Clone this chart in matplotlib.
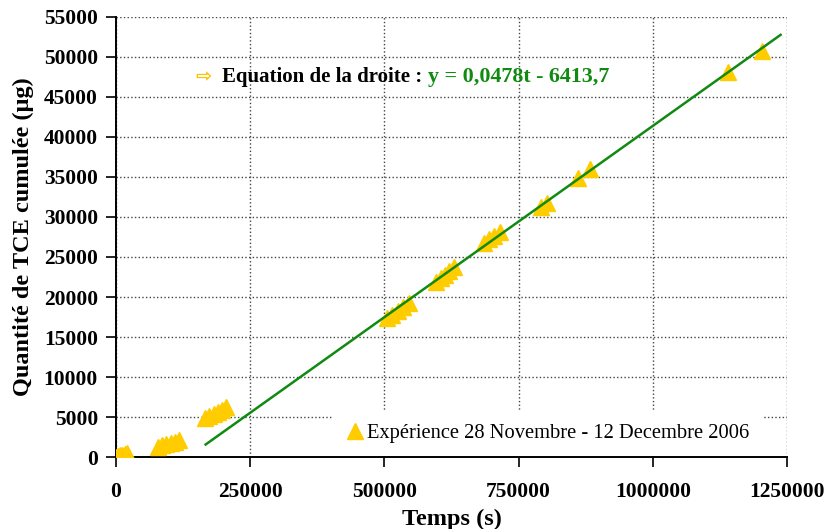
import numpy as np
import matplotlib
matplotlib.use("Agg")
from matplotlib import pyplot as plt

# measured points (temps in s, quantité cumulée in µg)
temps = [0, 4000, 8000, 12000, 16000, 20000,
         78000, 86000, 94000, 102000, 110000, 117000,
         166000, 174000, 182000, 190000, 198000, 204000,
         505000, 515000, 525000, 535000, 545000,
         597000, 605000, 612000, 620000, 630000,
         685000, 695000, 705000, 715000,
         792000, 802000, 861000, 883000,
         1140000, 1204000]
tce = [0, 100, 200, 300, 400, 500,
       1300, 1450, 1600, 1750, 1900, 2100,
       4900, 5100, 5400, 5600, 5900, 6200,
       17400, 17800, 18200, 18800, 19300,
       21900, 22400, 22800, 23200, 23800,
       26800, 27300, 27600, 28100,
       31300, 31700, 34900, 36000,
       48100, 50750]

# regression line given on the chart
pente = 0.0478
ordonnee = -6413.7
t_droite = [167000, 1238000]

x_ticks = [0, 250000, 500000, 750000, 1000000, 1250000]
y_ticks = list(range(0, 55001, 5000))

legend_label = "Expérience 28 Novembre - 12 Decembre 2006"
eq_black = "Equation de la droite : "
eq_green = "y = 0,0478t - 6413,7"

plt.rcParams['font.family'] = ['Liberation Serif', 'DejaVu Sans']

fig = plt.figure(figsize=(8.25, 5.29), dpi=100)
ax = fig.add_axes([0.1406, 0.136, 0.8134, 0.832])

ax.plot(temps, tce, linestyle='none', marker='^', ms=12, color='#FFCC00',
        markeredgecolor='#FFCC00', label=legend_label, zorder=3)
t_line = np.array(t_droite)
ax.plot(t_line, pente * t_line + ordonnee, color='#108A10', lw=1.8, zorder=4)

ax.set_xlim(0, 1250000)
ax.set_ylim(0, 55000)
ax.set_xticks(x_ticks)
ax.set_xticklabels([str(v) for v in x_ticks])
ax.set_yticks(y_ticks)
ax.set_yticklabels([str(v) for v in y_ticks])
ax.grid(True, linestyle=':', color='#444444', lw=1)
ax.set_axisbelow(True)

for s in ['top', 'right']:
    ax.spines[s].set_visible(False)
for s in ['left', 'bottom']:
    ax.spines[s].set_linewidth(1.4)

ax.tick_params(axis='x', direction='out', length=7, width=1.2, pad=11, labelsize=15.5)
ax.tick_params(axis='y', direction='out', length=7, width=1.2, pad=6, labelsize=15.5)
for lab in ax.get_xticklabels() + ax.get_yticklabels():
    lab.set_fontweight('bold')

ax.set_xlabel("Temps (s)", fontsize=17.5, fontweight='bold', labelpad=5)
ax.set_ylabel("Quantité de TCE cumulée (µg)", fontsize=17.5, fontweight='bold', labelpad=7)

# white box without border, hides the grid behind it
leg = ax.legend(loc='center left', bbox_to_anchor=(0.322, 0.0545), borderaxespad=0,
                fontsize=14.8, frameon=True, fancybox=False, handletextpad=0.1,
                borderpad=0.6, handlelength=1.0)
leg.get_frame().set_edgecolor('none')
leg.get_frame().set_facecolor('white')
leg.get_frame().set_alpha(1)

ax.text(0.13, 0.864, "⇨", transform=ax.transAxes, color='#FFC000',
        fontsize=14, fontweight='bold', va='center', ha='center',
        family=['DejaVu Sans'])
ax.text(0.158, 0.864, eq_black, transform=ax.transAxes, color='black',
        fontsize=15, fontweight='bold', va='center', ha='left')
ax.text(0.465, 0.864, eq_green, transform=ax.transAxes, color='#108A10',
        fontsize=15.8, fontweight='bold', va='center', ha='left')

fig.savefig("out.png", dpi=100)
